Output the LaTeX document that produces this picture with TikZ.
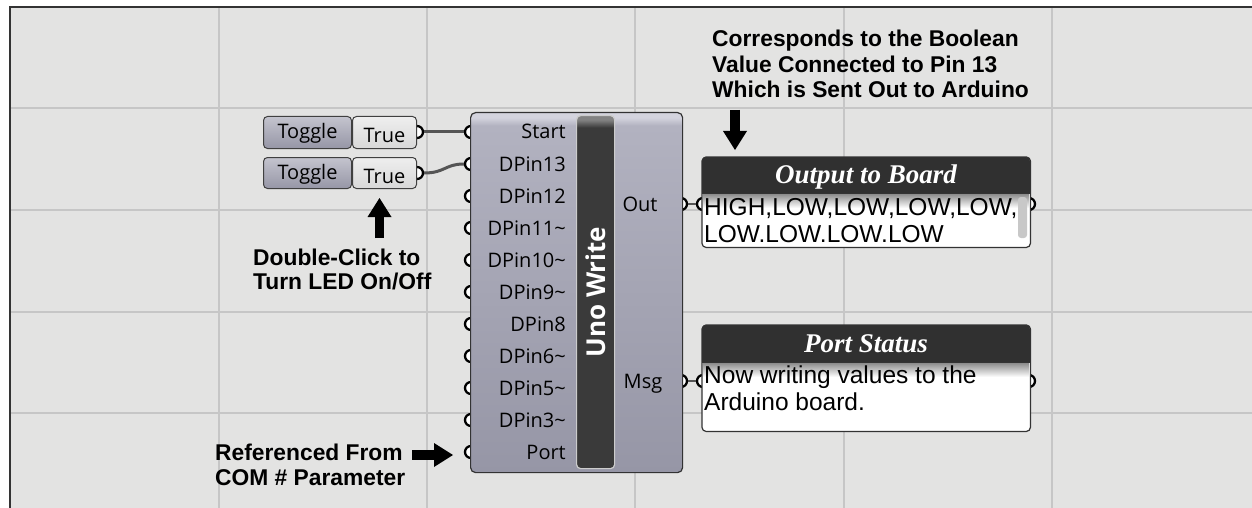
\documentclass[tikz,border=0pt]{standalone}
\usepackage{fontspec}
\setmainfont{Liberation Sans}
\newfontfamily\ghfont{Open Sans}
\newfontfamily\serifttl{Liberation Serif}
\usetikzlibrary{arrows.meta}

\definecolor{canvasbg}{RGB}{227,227,226}
\definecolor{gridc}{RGB}{198,198,198}
\definecolor{compA}{RGB}{178,178,192}
\definecolor{compB}{RGB}{150,150,166}
\definecolor{compHi}{RGB}{212,212,222}
\definecolor{barc}{RGB}{58,58,58}
\definecolor{barHi}{RGB}{130,130,130}
\definecolor{hdrc}{RGB}{48,48,48}
\definecolor{wirec}{RGB}{85,85,85}
\definecolor{btnA}{RGB}{196,196,206}
\definecolor{btnB}{RGB}{150,150,166}
\definecolor{valA}{RGB}{238,238,238}
\definecolor{valB}{RGB}{216,216,216}
\definecolor{scrollc}{RGB}{200,200,200}

\pgfdeclareverticalshading{compshade}{100bp}{color(0bp)=(compB); color(25bp)=(compB); color(73.2bp)=(compA); color(74.3bp)=(compHi); color(75bp)=(compHi); color(100bp)=(compHi)}
\pgfdeclareverticalshading{barshade}{100bp}{color(0bp)=(barc); color(25bp)=(barc); color(73.3bp)=(barc); color(74.4bp)=(barHi); color(75bp)=(barHi); color(100bp)=(barHi)}

\begin{document}
\begin{tikzpicture}[x=1pt,y=1pt,
  gridline/.style={draw=gridc,line width=1.8pt},
  grip/.style={circle,draw=black,line width=2.3pt,fill=white,minimum size=12pt,inner sep=0pt},
  wire/.style={draw=wirec,line width=3pt},
  btn/.style={anchor=north west,draw=black!75,line width=1pt,rounded corners=4pt,
    top color=btnA,bottom color=btnB,inner sep=0pt,minimum height=32pt,minimum width=88pt,
    font=\ghfont\fontsize{20}{20}\selectfont,text height=15pt,text depth=3pt},
  valbox/.style={anchor=north west,draw=black!75,line width=1pt,rounded corners=4pt,
    top color=valA,bottom color=valB,inner sep=0pt,minimum height=32pt,minimum width=64pt,
    font=\ghfont\fontsize{20}{20}\selectfont,text height=20pt,text depth=0pt},
  comp/.style={anchor=north west,draw=black!80,line width=1.2pt,rounded corners=5pt,
    shading=compshade,inner sep=0pt},
  cbar/.style={anchor=north west,draw=black!20,line width=1.2pt,rounded corners=4pt,
    shading=barshade,inner sep=0pt},
  plab/.style={font=\ghfont\fontsize{20}{20}\selectfont,inner sep=0pt},
  panelbox/.style={anchor=north west,fill=white,inner sep=0pt,minimum width=328pt},
  pborder/.style={draw=black!80,line width=1.2pt,rounded corners=4pt},
  ttl/.style={font=\serifttl\bfseries\itshape\fontsize{27}{27}\selectfont,text=white,inner sep=0pt,anchor=base},
  bodytxt/.style={font=\fontsize{24.5}{27}\selectfont,inner sep=0pt,anchor=base west},
  annot/.style={font=\bfseries\fontsize{22.8}{25.5}\selectfont,inner sep=0pt,anchor=base west},
  blockarrow/.style={line width=9.5pt,-{Triangle[width=24pt,length=19pt,line width=0pt]},black}
]
\useasboundingbox (0,0) rectangle (1252,-508);
% canvas
\fill[white] (0,0) rectangle (1252,-508);
\fill[canvasbg] (10,-7) rectangle (1252,-508);
\foreach \gx in {219,427,635,844,1052} \draw[gridline] (\gx,-7) -- (\gx,-508);
\foreach \gy in {108,210,312,413} \draw[gridline] (10,-\gy) -- (1252,-\gy);
\draw[black!80,line width=2pt] (10,-508) -- (10,-7) -- (1252,-7);

% grips
\node[grip] (tg1) at (417,-132) {};
\node[grip] (tg2) at (417,-173) {};
\foreach \i in {0,...,10} \node[grip] (in\i) at (471,{-132-32*\i}) {};
\node[grip] (outO) at (681,-204) {};
\node[grip] (outM) at (681,-381) {};
\node[grip] (p1in) at (703,-204) {};
\node[grip] (p1out) at (1029,-204) {};
\node[grip] (p2in) at (703,-381) {};
\node[grip] (p2out) at (1029,-381) {};

% wires
\draw[wire] (tg1.east) -- (in0.west);
\draw[wire] (tg2.east) .. controls (445,-173) and (445,-164) .. (in1.west);
\draw[wire,line width=2pt] (outO.east) -- (p1in.west);
\draw[wire,line width=2pt] (outM.east) -- (p2in.west);

% toggles
\node[btn] (tb1) at (263,-116) {Toggle};
\node[valbox] (tv1) at (352,-116) {True};
\node[btn,minimum height=31pt] (tb2) at (263,-157) {Toggle};
\node[valbox,minimum height=31pt] (tv2) at (352,-157) {True};

% Uno Write component
\node[comp,minimum width=212pt,minimum height=360pt] (uno) at (470,-112) {};
\node[cbar,minimum width=38pt,minimum height=353pt] (bar) at (576,-115) {};
\node[rotate=90,text=white,font=\ghfont\bfseries\fontsize{26}{26}\selectfont,inner sep=0pt] (unot) at (bar.center) {Uno Write};
\foreach \lab [count=\i from 0] in {Start,DPin13,DPin12,DPin11\textasciitilde,DPin10\textasciitilde,DPin9\textasciitilde,DPin8,DPin6\textasciitilde,DPin5\textasciitilde,DPin3\textasciitilde,Port}
  \node[plab,anchor=base east] (lab\i) at (566,{-139-32*\i}) {\lab};
\node[plab,anchor=base] (labOut) at (640,-211) {Out};
\node[plab,anchor=base] (labMsg) at (643,-388) {Msg};

% Output to Board panel
\node[panelbox,minimum height=90pt] (outp) at (702,-157) {};
\fill[hdrc] (702,-193) [rounded corners=4pt] -- (702,-157) -- (1030,-157) [sharp corners] -- (1030,-193) -- cycle;
\shade[top color=black!45,bottom color=white] (703,-194) rectangle (1029,-208);
\draw[black!80,line width=1pt] (702,-193) -- (1030,-193);
\fill[scrollc,rounded corners=3pt] (1018,-197) rectangle (1027,-238);
\node[ttl] (outt) at (866,-183) {Output to Board};
\node[bodytxt] (ob1) at (704,-215) {HIGH,LOW,LOW,LOW,LOW,};
\node[bodytxt] (ob2) at (704,-242) {LOW.LOW.LOW.LOW};
\draw[pborder] (outp.north west) rectangle (outp.south east);

% Port Status panel
\node[panelbox,minimum height=106pt] (portp) at (702,-325) {};
\fill[hdrc] (702,-362) [rounded corners=4pt] -- (702,-325) -- (1030,-325) [sharp corners] -- (1030,-362) -- cycle;
\shade[top color=black!45,bottom color=white] (703,-363) rectangle (1029,-377);
\draw[black!80,line width=1pt] (702,-362) -- (1030,-362);
\node[ttl] (portt) at (866,-352) {Port Status};
\node[bodytxt] (pb1) at (704,-383) {Now writing values to the};
\node[bodytxt] (pb2) at (704,-410) {Arduino board.};
\draw[pborder] (portp.north west) rectangle (portp.south east);

% annotations
\node[annot] (an1a) at (712,-47) {Corresponds to the Boolean};
\node[annot] (an1b) at (712,-72.5) {Value Connected to Pin 13};
\node[annot] (an1c) at (712,-98) {Which is Sent Out to Arduino};
\coordinate (a1s) at (735,-110);
\coordinate (a1e) at (735,-150);
\draw[blockarrow] (a1s) -- (a1e);

\node[annot] (an2a) at (253,-265) {Double-Click to};
\node[annot] (an2b) at (253,-289.5) {Turn LED On/Off};
\coordinate (a2s) at (379.5,-238);
\coordinate (a2e) at (379.5,-198);
\draw[blockarrow] (a2s) -- (a2e);

\node[annot] (an3a) at (215,-460) {Referenced From};
\node[annot] (an3b) at (215,-485) {COM \# Parameter};
\coordinate (a3s) at (412,-455);
\coordinate (a3e) at (453,-455);
\draw[blockarrow] (a3s) -- (a3e);
\end{tikzpicture}
\end{document}
